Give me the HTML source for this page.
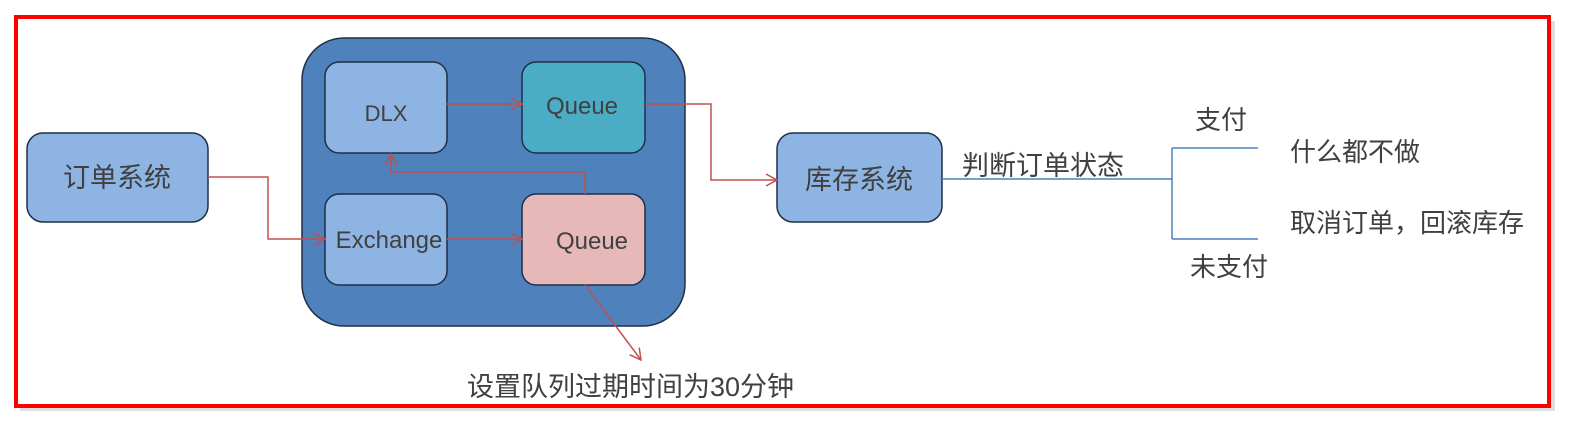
<!DOCTYPE html>
<html><head><meta charset="utf-8"><style>
body{margin:0;background:#fff;width:1586px;height:430px;overflow:hidden}
svg text{font-family:"Liberation Sans","Noto Sans CJK SC",sans-serif;fill:#404040}
</style></head><body>
<svg width="1586" height="430" viewBox="0 0 1586 430">
<defs><marker id="a" markerWidth="14" markerHeight="14" refX="12" refY="7" orient="auto" markerUnits="userSpaceOnUse"><path d="M1,1 L12,7 L1,13" fill="none" stroke="#c0504d" stroke-width="1.5"/></marker></defs>
<rect x="20" y="21" width="1535" height="390" fill="#c8c8c8" opacity="0.6"/>
<rect x="16" y="17" width="1533" height="389" fill="#fff" stroke="#f00" stroke-width="4"/>
<rect x="302" y="38" width="383" height="288" rx="42" fill="#4f81bd" stroke="#1f2f45" stroke-width="1.5"/>
<g stroke="#1f2f45" stroke-width="1.5">
<rect x="27" y="133" width="181" height="89" rx="16" fill="#8eb4e3"/>
<rect x="325" y="62" width="122" height="91" rx="14" fill="#8eb4e3"/>
<rect x="522" y="62" width="123" height="91" rx="14" fill="#4bacc6"/>
<rect x="325" y="194" width="122" height="91" rx="14" fill="#8eb4e3"/>
<rect x="522" y="194" width="123" height="91" rx="14" fill="#e6b9b8"/>
<rect x="777" y="133" width="165" height="89" rx="16" fill="#8eb4e3"/>
</g>
<g fill="none" stroke="#c0504d" stroke-width="1.5">
<path d="M208,177 H268 V239 H325" marker-end="url(#a)"/>
<path d="M447,239 H522" marker-end="url(#a)"/>
<path d="M447,104 H522" marker-end="url(#a)"/>
<path d="M585,194 V172 H391 V154" marker-end="url(#a)"/>
<path d="M645,104 H711 V180 H777" marker-end="url(#a)"/>
<path d="M585,285 L641,360" marker-end="url(#a)"/>
</g>
<g fill="none" stroke="#4f81bd" stroke-width="1.5">
<path d="M942,179 H1172"/><path d="M1172,148 V239"/><path d="M1172,148 H1258"/><path d="M1172,239 H1258"/>
</g>
<g font-size="26">
<text x="117" y="187" text-anchor="middle" font-size="27">订单系统</text>
<text x="386" y="121" text-anchor="middle" font-size="22">DLX</text>
<text x="582" y="114" text-anchor="middle" font-size="24">Queue</text>
<text x="389" y="248" text-anchor="middle" font-size="24">Exchange</text>
<text x="592" y="249" text-anchor="middle" font-size="24">Queue</text>
<text x="859" y="189" text-anchor="middle" font-size="27">库存系统</text>
<text x="962" y="175" font-size="27">判断订单状态</text>
<text x="1195" y="129">支付</text>
<text x="1290" y="161">什么都不做</text>
<text x="1290" y="232">取消订单，回滚库存</text>
<text x="1190" y="276">未支付</text>
<text x="467" y="396" font-size="27">设置队列过期时间为30分钟</text>
</g>
</svg>
</body></html>
